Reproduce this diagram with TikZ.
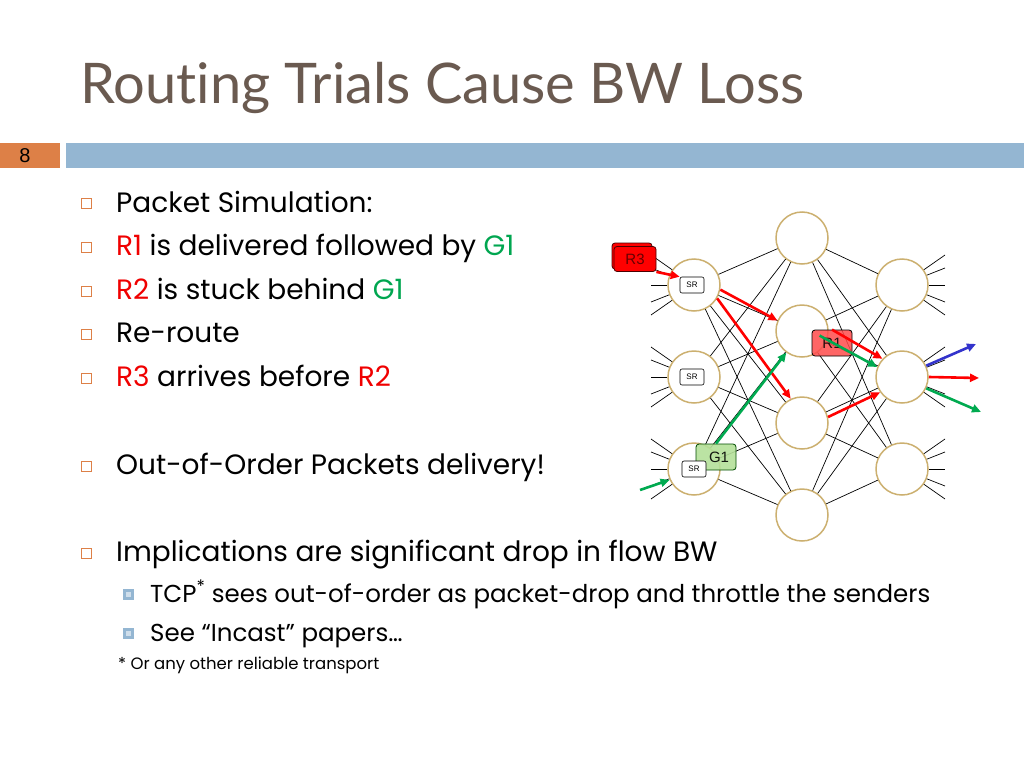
\documentclass[tikz,border=0pt]{standalone}
\usepackage{fontspec}
\setmainfont{Poppins}
\newfontfamily\titlefont{Lato}[Ligatures=NoCommon]
\newfontfamily\arialfont{Liberation Sans}
\usetikzlibrary{backgrounds,arrows.meta}
\definecolor{titlebrown}{RGB}{106,90,80}
\definecolor{numorange}{RGB}{221,128,71}
\definecolor{barblue}{RGB}{148,182,210}
\definecolor{swtan}{RGB}{204,176,112}
\definecolor{pktred}{RGB}{255,0,0}
\definecolor{pktgreen}{RGB}{0,170,80}
\definecolor{pktblue}{RGB}{51,51,204}
\definecolor{txtred}{RGB}{240,0,0}
\definecolor{txtgreen}{RGB}{0,166,80}
\tikzset{
  sw/.style={circle, draw=swtan, line width=1.5pt, fill=white, minimum size=52pt, inner sep=0pt},
  edge/.style={black, line width=0.7pt},
  srbox/.style={draw, rounded corners=2pt, fill=white, line width=0.6pt, font=\arialfont\fontsize{8}{8}\selectfont, minimum width=24pt, minimum height=16pt, inner sep=0pt},
  pktbox/.style={rounded corners=3pt, line width=0.8pt, font=\arialfont\fontsize{15}{15}\selectfont, minimum width=40pt, minimum height=26pt, inner sep=0pt},
  pkt/.style={line width=2.6pt, -{Triangle[length=9pt,width=8pt]}},
  hbul/.style={draw=numorange, line width=1pt, minimum size=10pt, inner sep=0pt},
  sbul/.style={draw=barblue, fill=barblue!45, line width=3pt, minimum size=8pt, inner sep=0pt},
  bodytxt/.style={anchor=base west, inner sep=0pt, font=\fontsize{28}{32}\selectfont},
  subtxt/.style={anchor=base west, inner sep=0pt, font=\fontsize{24.5}{28}\selectfont},
}
\begin{document}
\begin{tikzpicture}[x=1pt,y=-1pt]
  \useasboundingbox[fill=white] (0,0) rectangle (1024,768);
  % title and bar
  \node[anchor=base west, inner sep=0pt, text=titlebrown, font=\titlefont\fontsize{56}{64}\selectfont] (title) at (80,103) {Routing Trials Cause BW Loss};
  \fill[numorange] (0,143) rectangle (60,168);
  \node[font=\arialfont\fontsize{20}{20}\selectfont] (num) at (25,155.5) {8};
  \fill[barblue] (66,143) rectangle (1024,168);

  % bullets
  \node[hbul] (b1) at (86,203) {};
  \node[bodytxt] (t1) at (116,212) {Packet Simulation:};
  \node[hbul] (b2) at (86,247) {};
  \node[bodytxt] (t2) at (116,255) {\textcolor{txtred}{R1} is delivered followed by \textcolor{txtgreen}{G1}};
  \node[hbul] (b3) at (86,291) {};
  \node[bodytxt] (t3) at (116,299) {\textcolor{txtred}{R2} is stuck behind \textcolor{txtgreen}{G1}};
  \node[hbul] (b4) at (86,334) {};
  \node[bodytxt] (t4) at (116,342) {Re-route};
  \node[hbul] (b5) at (86,378) {};
  \node[bodytxt] (t5) at (116,386) {\textcolor{txtred}{R3} arrives before \textcolor{txtred}{R2}};
  \node[hbul] (b6) at (86,466) {};
  \node[bodytxt] (t6) at (116,474) {Out-of-Order Packets delivery!};
  \node[hbul] (b7) at (86,553) {};
  \node[bodytxt] (t7) at (116,561) {Implications are significant drop in flow BW};
  \node[sbul] (s1) at (128.5,594) {};
  \node[subtxt] (u1) at (150,602) {TCP\textsuperscript{*} sees out-of-order as packet-drop and throttle the senders};
  \node[sbul] (s2) at (128.5,633) {};
  \node[subtxt] (u2) at (150,641) {See “Incast” papers…};
  \node[anchor=base west, inner sep=0pt, font=\fontsize{16.5}{19}\selectfont] (foot) at (118,669) {* Or any other reliable transport};

  % switches
  \foreach \n/\y in {1/285,2/377,3/469} {
    \node[sw] (L\n) at (694,\y) {};
    \node[sw] (Rt\n) at (902,\y) {};
  }
  \foreach \n/\y in {1/238,2/331,3/423,4/515}
    \node[sw] (M\n) at (802,\y) {};
  \foreach \l in {1,2,3}
    \foreach \m in {1,...,4} {
      \draw[edge] (L\l) -- (M\m);
      \draw[edge] (M\m) -- (Rt\l);
    }
  % stubs
  \foreach \n in {1,2,3}
    \foreach \dy in {-30,-17,0,17,30} {
      \draw[edge] (L\n) -- +(-43,\dy);
      \draw[edge] (Rt\n) -- +(43,\dy);
    }

  % packets
  \node[pktbox, draw=black!70!red, fill=pktred] (R3b) at (632,256) {};
  \node[pktbox, draw=black!70!red, fill=pktred, minimum width=42pt, minimum height=25pt] (R3) at (635,259) {\textcolor{black!60!red}{R3}};
  \node[pktbox, draw=black!70!green, fill=green!50!lime!70!black!40!white, fill opacity=0.9] (G1) at (716,457) {\hspace*{6pt}G1};
  \node[srbox] (SR1) at (692,285) {SR};
  \node[srbox] (SR2) at (692,377) {SR};
  \node[srbox] (SR3) at (694,469) {SR};
  \node[pktbox, draw=black, fill=red!70!white, fill opacity=0.85] (R1) at (832,343) {R1};

  \coordinate (gin) at (640,490);
  \coordinate (oblue) at (976,344);
  \coordinate (ored) at (979,378);
  \coordinate (ogreen) at (981,412);
  \draw[pkt, pktred] (R3.south east) -- (SR1.north west);
  \draw[pkt, pktred] (L1.-10) -- (M2.157);
  \draw[pkt, pktred] (L1.-30) -- (M3.115);
  \draw[pkt, pktred] (M3.13) -- (Rt2.-145);
  \draw[pkt, pktred] (R1.north) -- (Rt2.137);
  \draw[pkt, pktgreen] ([shift={(8,6)}]R1.north west) -- (Rt2.158);
  \draw[pkt, pktgreen] (G1.north) -- (M2.-126);
  \draw[pkt, pktgreen] (gin) -- (L3.-156);
  \draw[pkt, pktblue] (Rt2.25) -- (oblue);
  \draw[pkt, pktred] (Rt2.east) -- (ored);
  \draw[pkt, pktgreen] (Rt2.-25) -- (ogreen);
\end{tikzpicture}
\end{document}
